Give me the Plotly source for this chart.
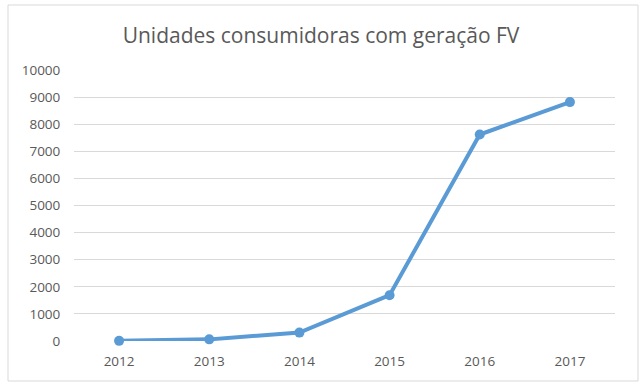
import plotly.graph_objects as go

years = ["2012", "2013", "2014", "2015", "2016", "2017"]
units = [5, 60, 310, 1690, 7620, 8815]
y_ticks = [0, 1000, 2000, 3000, 4000, 5000, 6000, 7000, 8000, 9000, 10000]

W, H = 640, 387
L, R, T, B = 74, 25, 70, 46
pw, ph = W - L - R, H - T - B

def px(x):
    return (x - L) / pw

def py(y):
    return (H - B - y) / ph

fig = go.Figure()
fig.add_trace(go.Scatter(
    x=years, y=units, mode="lines+markers",
    line=dict(color="#5B9BD5", width=4),
    marker=dict(color="#5B9BD5", size=10),
    showlegend=False, cliponaxis=False,
))

font_color = "#595959"
fig.update_layout(
    width=W, height=H,
    margin=dict(l=L, r=R, t=T, b=B),
    paper_bgcolor="white", plot_bgcolor="white",
    font=dict(family="Open Sans", color=font_color),
    title=dict(text="Unidades consumidoras com geração FV", x=321 / W, xref="container",
               xanchor="center", y=1 - 36 / H, yref="container", yanchor="middle",
               font=dict(size=21, color=font_color, family="Open Sans")),
    xaxis=dict(type="category", range=[-0.5, 5.5], showgrid=False, showline=False,
               zeroline=False, ticks="outside", ticklen=8, tickcolor="rgba(0,0,0,0)",
               tickfont=dict(size=13.5, color=font_color)),
    yaxis=dict(range=[0, 10000], tickvals=y_ticks, ticktext=[str(v) for v in y_ticks],
               showgrid=True, gridcolor="#D9D9D9", gridwidth=1, zeroline=False,
               showline=False, ticks="outside", ticklen=10, tickcolor="rgba(0,0,0,0)",
               tickfont=dict(size=13.5, color=font_color)),
    shapes=[dict(type="rect", xref="paper", yref="paper",
                 x0=px(8), x1=px(638), y0=py(381), y1=py(5),
                 line=dict(color="#D9D9D9", width=1), layer="below")],
)

fig.write_html("out.html")
